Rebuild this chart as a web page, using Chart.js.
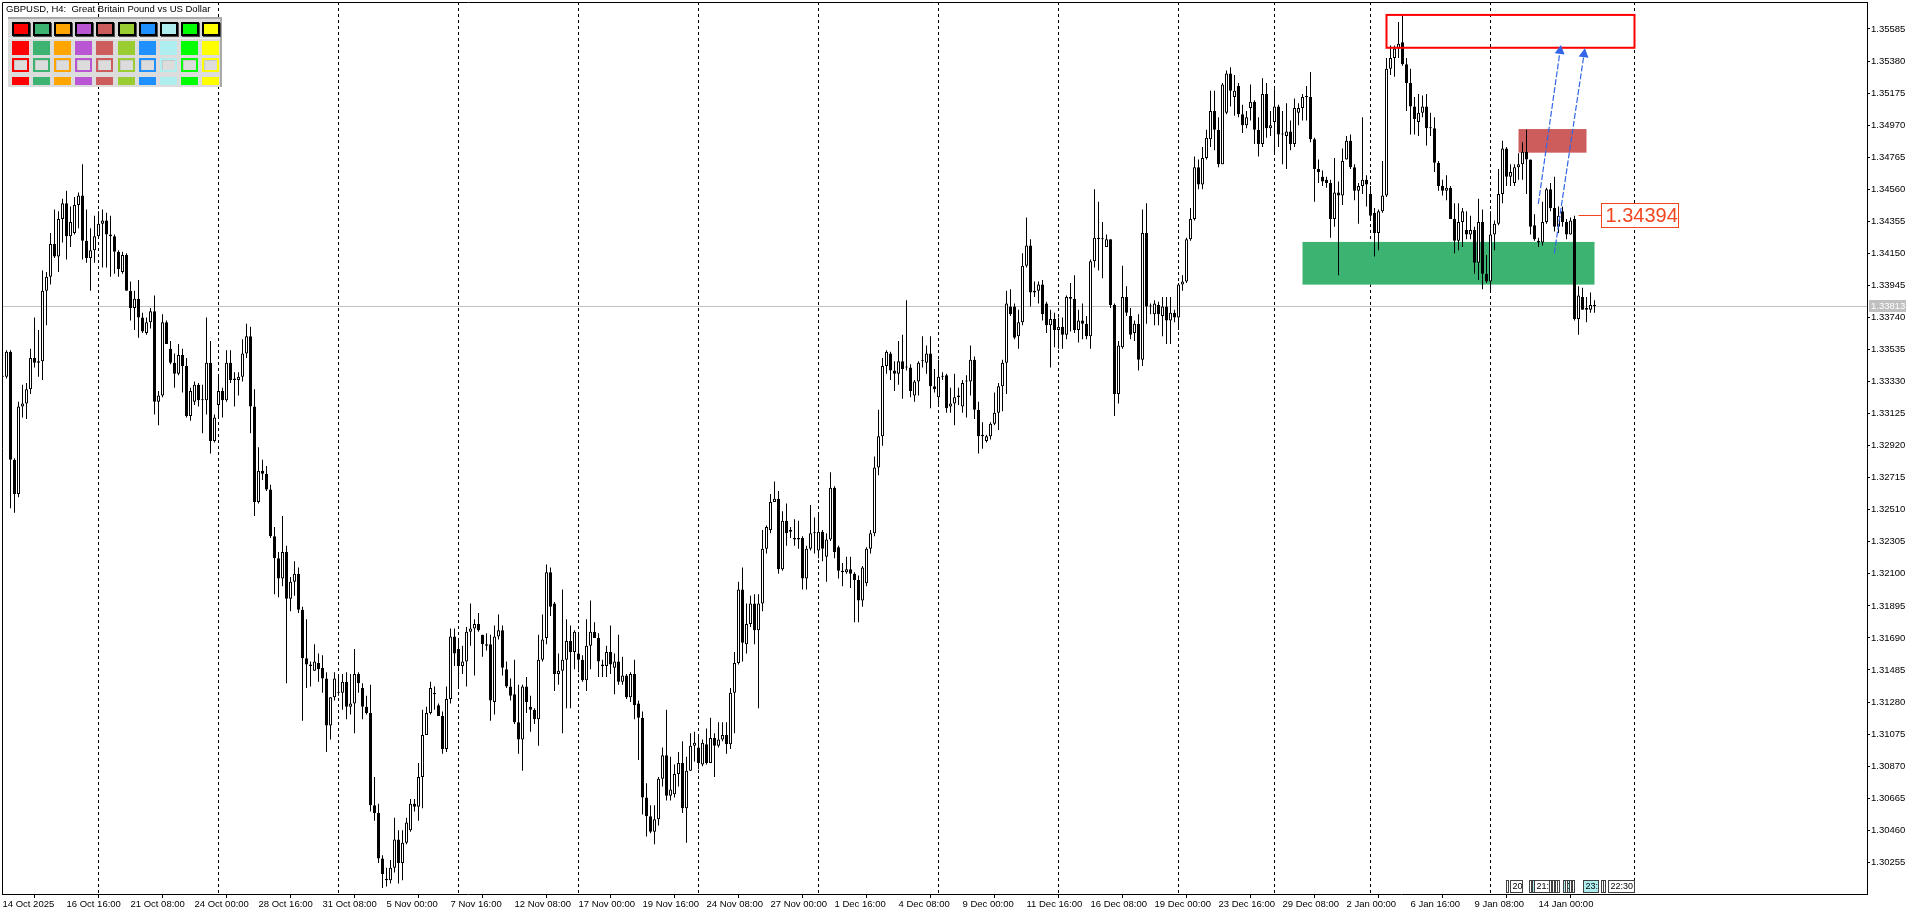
<!DOCTYPE html>
<html>
<head>
<meta charset="utf-8">
<title>GBPUSD, H4</title>
<script src="https://cdn.jsdelivr.net/npm/chart.js@4.4.1/dist/chart.umd.min.js"></script>
<style>
html, body { margin: 0; padding: 0; background: #ffffff; overflow: hidden; }
#wrap { position: relative; width: 1920px; height: 915px; }
</style>
</head>
<body>
<div id="wrap"><canvas id="chart"></canvas></div>
<script>
var symbolTitle = "GBPUSD, H4:  Great Britain Pound vs US Dollar"

// H4 bars, index 0 = 14 Oct 2025 00:00
var opens = [
1.3336,1.3336,1.3352,1.3283,1.3261,1.3317,1.3319,1.3328,1.3348,1.3345,
1.3346,1.3391,1.3400,1.3421,1.3413,1.3437,1.3447,1.3426,1.3428,1.3446,
1.3452,1.3423,1.3412,1.3417,1.3426,1.3434,1.3436,1.3427,1.3426,1.3416,
1.3403,1.3414,1.3391,1.3380,1.3386,1.3374,1.3364,1.3371,1.3378,1.3320,
1.3324,1.3371,1.3354,1.3345,1.3338,1.3350,1.3343,1.3311,1.3320,1.3331,
1.3321,1.3321,1.3345,1.3295,1.3318,1.3327,1.3321,1.3345,1.3335,1.3334,
1.3336,1.3351,1.3362,1.3317,1.3256,1.3276,1.3274,1.3264,1.3234,1.3220,
1.3207,1.3224,1.3194,1.3205,1.3210,1.3187,1.3156,1.3152,1.3148,1.3153,
1.3150,1.3143,1.3113,1.3131,1.3134,1.3134,1.3141,1.3125,1.3127,1.3146,
1.3137,1.3125,1.3121,1.3062,1.3057,1.3028,1.3015,1.3014,1.3022,1.3040,
1.3025,1.3038,1.3046,1.3063,1.3061,1.3080,1.3107,1.3121,1.3134,1.3126,
1.3119,1.3098,1.3130,1.3170,1.3162,1.3151,1.3154,1.3173,1.3175,1.3178,
1.3171,1.3165,1.3165,1.3128,1.3170,1.3174,1.3149,1.3138,1.3133,1.3115,
1.3104,1.3138,1.3125,1.3123,1.3117,1.3155,1.3169,1.3211,1.3191,1.3146,
1.3148,1.3155,1.3167,1.3160,1.3159,1.3155,1.3142,1.3164,1.3173,1.3169,
1.3152,1.3151,1.3160,1.3150,1.3154,1.3141,1.3145,1.3131,1.3146,1.3127,
1.3118,1.3067,1.3055,1.3045,1.3053,1.3079,1.3094,1.3068,1.3069,1.3082,
1.3089,1.3060,1.3084,1.3100,1.3099,1.3088,1.3101,1.3089,1.3105,1.3100,
1.3104,1.3107,1.3101,1.3134,1.3153,1.3200,1.3165,1.3178,1.3191,1.3174,
1.3191,1.3226,1.3238,1.3256,1.3258,1.3213,1.3244,1.3238,1.3233,1.3233,
1.3233,1.3207,1.3226,1.3236,1.3225,1.3237,1.3221,1.3232,1.3265,1.3227,
1.3212,1.3211,1.3213,1.3210,1.3206,1.3193,1.3204,1.3226,1.3236,1.3278,
1.3298,1.3343,1.3351,1.3340,1.3338,1.3346,1.3342,1.3342,1.3324,1.3333,
1.3346,1.3345,1.3351,1.3330,1.3323,1.3336,1.3337,1.3317,1.3319,1.3323,
1.3317,1.3333,1.3333,1.3347,1.3315,1.3298,1.3295,1.3298,1.3306,1.3313,
1.3330,1.3345,1.3381,1.3381,1.3362,1.3371,1.3407,1.3420,1.3390,1.3391,
1.3395,1.3383,1.3369,1.3373,1.3366,1.3368,1.3363,1.3387,1.3386,1.3366,
1.3372,1.3370,1.3362,1.3410,1.3425,1.3424,1.3419,1.3424,1.3382,1.3325,
1.3355,1.3387,1.3375,1.3364,1.3370,1.3347,1.3428,1.3381,1.3376,1.3382,
1.3375,1.3381,1.3372,1.3377,1.3374,1.3395,1.3397,1.3424,1.3437,1.3470,
1.3459,1.3476,1.3488,1.3506,1.3494,1.3472,1.3505,1.3530,1.3515,1.3522,
1.3504,1.3497,1.3508,1.3512,1.3494,1.3485,1.3517,1.3495,1.3499,1.3509,
1.3491,1.3490,1.3493,1.3485,1.3505,1.3508,1.3515,1.3515,1.3488,1.3469,
1.3464,1.3462,1.3460,1.3437,1.3454,1.3452,1.3475,1.3487,1.3470,1.3455,
1.3458,1.3462,1.3453,1.3441,1.3428,1.3442,1.3452,1.3533,1.3540,1.3546,
1.3550,1.3536,1.3524,1.3509,1.3499,1.3505,1.3509,1.3495,1.3495,1.3473,
1.3458,1.3455,1.3457,1.3437,1.3423,1.3435,1.3430,1.3427,1.3430,1.3409,
1.3435,1.3402,1.3397,1.3427,1.3434,1.3453,1.3482,1.3464,1.3460,1.3470,
1.3472,1.3480,1.3475,1.3433,1.3423,1.3422,1.3435,1.3456,1.3444,1.3432,
1.3442,1.3435,1.3427,1.3437,1.3373,1.3387,1.3380,1.3379,1.3382
]
var highs = [
1.3339,1.3353,1.3353,1.3284,1.3320,1.3331,1.3332,1.3354,1.3374,1.3366,
1.3404,1.3403,1.3428,1.3443,1.3442,1.3450,1.3455,1.3445,1.3451,1.3454,
1.3472,1.3443,1.3431,1.3439,1.3442,1.3443,1.3441,1.3439,1.3427,1.3417,
1.3416,1.3415,1.3397,1.3391,1.3398,1.3377,1.3374,1.3380,1.3388,1.3327,
1.3376,1.3372,1.3359,1.3351,1.3357,1.3354,1.3348,1.3329,1.3333,1.3332,
1.3331,1.3374,1.3359,1.3312,1.3337,1.3329,1.3353,1.3353,1.3339,1.3339,
1.3360,1.3370,1.3368,1.3328,1.3291,1.3283,1.3279,1.3267,1.3240,1.3224,
1.3247,1.3228,1.3208,1.3218,1.3214,1.3189,1.3181,1.3154,1.3165,1.3159,
1.3158,1.3147,1.3131,1.3147,1.3144,1.3146,1.3147,1.3146,1.3162,1.3147,
1.3140,1.3132,1.3139,1.3080,1.3063,1.3030,1.3022,1.3027,1.3054,1.3046,
1.3046,1.3054,1.3066,1.3066,1.3089,1.3123,1.3125,1.3141,1.3138,1.3127,
1.3122,1.3138,1.3175,1.3175,1.3167,1.3164,1.3176,1.3191,1.3181,1.3185,
1.3171,1.3172,1.3171,1.3177,1.3184,1.3177,1.3154,1.3143,1.3155,1.3139,
1.3139,1.3144,1.3132,1.3124,1.3171,1.3184,1.3216,1.3214,1.3192,1.3159,
1.3200,1.3181,1.3177,1.3174,1.3171,1.3158,1.3181,1.3193,1.3179,1.3172,
1.3155,1.3164,1.3177,1.3159,1.3171,1.3157,1.3146,1.3147,1.3155,1.3129,
1.3122,1.3076,1.3062,1.3062,1.3080,1.3099,1.3123,1.3093,1.3088,1.3096,
1.3103,1.3093,1.3108,1.3109,1.3107,1.3104,1.3111,1.3118,1.3108,1.3115,
1.3115,1.3115,1.3137,1.3160,1.3205,1.3214,1.3191,1.3196,1.3197,1.3197,
1.3238,1.3241,1.3261,1.3269,1.3263,1.3250,1.3255,1.3240,1.3245,1.3244,
1.3234,1.3228,1.3254,1.3246,1.3249,1.3238,1.3236,1.3275,1.3266,1.3228,
1.3217,1.3221,1.3221,1.3211,1.3209,1.3215,1.3227,1.3238,1.3285,1.3315,
1.3348,1.3353,1.3352,1.3346,1.3359,1.3363,1.3385,1.3344,1.3334,1.3346,
1.3362,1.3356,1.3362,1.3341,1.3347,1.3339,1.3338,1.3329,1.3338,1.3329,
1.3334,1.3337,1.3356,1.3349,1.3320,1.3307,1.3299,1.3307,1.3326,1.3332,
1.3347,1.3391,1.3392,1.3383,1.3379,1.3415,1.3438,1.3424,1.3397,1.3397,
1.3398,1.3384,1.3379,1.3377,1.3374,1.3374,1.3388,1.3396,1.3401,1.3379,
1.3383,1.3375,1.3411,1.3456,1.3448,1.3435,1.3427,1.3424,1.3383,1.3359,
1.3407,1.3394,1.3380,1.3372,1.3376,1.3443,1.3447,1.3383,1.3385,1.3384,
1.3387,1.3387,1.3387,1.3379,1.3396,1.3401,1.3425,1.3444,1.3477,1.3475,
1.3483,1.3494,1.3519,1.3519,1.3502,1.3524,1.3532,1.3534,1.3529,1.3524,
1.3510,1.3506,1.3523,1.3513,1.3502,1.3527,1.3524,1.3506,1.3520,1.3510,
1.3506,1.3511,1.3500,1.3514,1.3511,1.3517,1.3522,1.3531,1.3489,1.3475,
1.3468,1.3464,1.3462,1.3476,1.3461,1.3482,1.3490,1.3491,1.3472,1.3460,
1.3502,1.3465,1.3458,1.3444,1.3443,1.3474,1.3540,1.3548,1.3548,1.3563,
1.3568,1.3540,1.3533,1.3515,1.3517,1.3516,1.3517,1.3505,1.3502,1.3474,
1.3462,1.3465,1.3458,1.3447,1.3447,1.3444,1.3442,1.3439,1.3432,1.3450,
1.3443,1.3414,1.3442,1.3436,1.3469,1.3487,1.3483,1.3472,1.3472,1.3479,
1.3486,1.3494,1.3475,1.3440,1.3425,1.3448,1.3457,1.3460,1.3464,1.3445,
1.3445,1.3437,1.3438,1.3439,1.3394,1.3393,1.3387,1.3390,1.3385
]
var lows = [
1.3334,1.3335,1.3252,1.3249,1.3259,1.3310,1.3309,1.3325,1.3342,1.3336,
1.3334,1.3369,1.3395,1.3412,1.3403,1.3422,1.3411,1.3419,1.3427,1.3431,
1.3411,1.3409,1.3391,1.3409,1.3425,1.3406,1.3406,1.3400,1.3402,1.3400,
1.3402,1.3391,1.3372,1.3366,1.3361,1.3364,1.3363,1.3367,1.3312,1.3305,
1.3323,1.3357,1.3344,1.3329,1.3337,1.3326,1.3310,1.3308,1.3318,1.3317,
1.3300,1.3312,1.3287,1.3294,1.3310,1.3310,1.3320,1.3332,1.3317,1.3324,
1.3333,1.3348,1.3300,1.3247,1.3255,1.3270,1.3263,1.3233,1.3197,1.3195,
1.3202,1.3140,1.3186,1.3196,1.3185,1.3116,1.3137,1.3138,1.3148,1.3141,
1.3134,1.3096,1.3104,1.3129,1.3132,1.3123,1.3117,1.3120,1.3108,1.3134,
1.3117,1.3120,1.3058,1.3052,1.3025,1.3009,1.3010,1.3012,1.3019,1.3012,
1.3014,1.3037,1.3045,1.3058,1.3052,1.3060,1.3107,1.3120,1.3123,1.3119,
1.3095,1.3096,1.3127,1.3151,1.3137,1.3146,1.3138,1.3164,1.3145,1.3173,
1.3157,1.3161,1.3116,1.3120,1.3168,1.3145,1.3137,1.3129,1.3114,1.3095,
1.3084,1.3121,1.3109,1.3114,1.3100,1.3154,1.3165,1.3183,1.3135,1.3139,
1.3108,1.3124,1.3124,1.3149,1.3147,1.3141,1.3135,1.3149,1.3169,1.3144,
1.3144,1.3144,1.3146,1.3133,1.3139,1.3139,1.3130,1.3128,1.3117,1.3091,
1.3056,1.3042,1.3044,1.3037,1.3049,1.3074,1.3065,1.3065,1.3067,1.3074,
1.3057,1.3038,1.3084,1.3090,1.3085,1.3087,1.3088,1.3089,1.3080,1.3099,
1.3103,1.3095,1.3098,1.3108,1.3152,1.3154,1.3159,1.3176,1.3165,1.3124,
1.3186,1.3223,1.3236,1.3256,1.3210,1.3212,1.3228,1.3233,1.3228,1.3226,
1.3200,1.3200,1.3225,1.3223,1.3220,1.3218,1.3205,1.3231,1.3220,1.3207,
1.3202,1.3210,1.3201,1.3179,1.3179,1.3189,1.3202,1.3223,1.3234,1.3273,
1.3292,1.3338,1.3334,1.3327,1.3331,1.3322,1.3340,1.3323,1.3320,1.3324,
1.3342,1.3338,1.3316,1.3326,1.3317,1.3334,1.3313,1.3313,1.3305,1.3318,
1.3313,1.3310,1.3324,1.3309,1.3287,1.3290,1.3294,1.3296,1.3305,1.3302,
1.3314,1.3325,1.3375,1.3360,1.3354,1.3369,1.3406,1.3381,1.3387,1.3383,
1.3372,1.3364,1.3342,1.3355,1.3354,1.3354,1.3360,1.3365,1.3364,1.3358,
1.3360,1.3360,1.3354,1.3406,1.3404,1.3399,1.3419,1.3380,1.3311,1.3319,
1.3354,1.3375,1.3360,1.3359,1.3340,1.3343,1.3370,1.3376,1.3369,1.3369,
1.3362,1.3357,1.3357,1.3371,1.3366,1.3391,1.3396,1.3423,1.3436,1.3456,
1.3456,1.3475,1.3483,1.3481,1.3470,1.3472,1.3504,1.3509,1.3503,1.3502,
1.3492,1.3495,1.3500,1.3485,1.3477,1.3483,1.3489,1.3490,1.3479,1.3483,
1.3472,1.3469,1.3481,1.3483,1.3497,1.3500,1.3500,1.3486,1.3448,1.3460,
1.3458,1.3457,1.3425,1.3432,1.3401,1.3446,1.3475,1.3469,1.3449,1.3434,
1.3453,1.3445,1.3437,1.3413,1.3417,1.3441,1.3451,1.3529,1.3528,1.3540,
1.3535,1.3506,1.3491,1.3491,1.3490,1.3502,1.3484,1.3490,1.3467,1.3455,
1.3452,1.3449,1.3437,1.3415,1.3417,1.3419,1.3424,1.3424,1.3402,1.3398,
1.3392,1.3396,1.3390,1.3417,1.3433,1.3447,1.3458,1.3458,1.3458,1.3462,
1.3462,1.3453,1.3427,1.3423,1.3419,1.3420,1.3434,1.3442,1.3429,1.3428,
1.3432,1.3424,1.3427,1.3372,1.3363,1.3379,1.3371,1.3377,1.3377
]
var closes = [
1.3336,1.3352,1.3283,1.3261,1.3317,1.3319,1.3328,1.3348,1.3345,1.3346,
1.3391,1.3400,1.3421,1.3413,1.3437,1.3447,1.3426,1.3435,1.3446,1.3452,
1.3423,1.3412,1.3417,1.3426,1.3434,1.3436,1.3427,1.3426,1.3416,1.3405,
1.3414,1.3391,1.3380,1.3386,1.3374,1.3365,1.3371,1.3378,1.3320,1.3324,
1.3371,1.3357,1.3345,1.3338,1.3350,1.3343,1.3311,1.3327,1.3331,1.3321,
1.3321,1.3345,1.3295,1.3310,1.3327,1.3321,1.3345,1.3334,1.3334,1.3336,
1.3351,1.3362,1.3317,1.3256,1.3276,1.3274,1.3264,1.3234,1.3220,1.3207,
1.3224,1.3194,1.3205,1.3210,1.3187,1.3156,1.3152,1.3151,1.3154,1.3149,
1.3143,1.3113,1.3131,1.3143,1.3134,1.3141,1.3125,1.3127,1.3146,1.3140,
1.3125,1.3121,1.3062,1.3057,1.3028,1.3018,1.3014,1.3022,1.3040,1.3025,
1.3038,1.3051,1.3063,1.3061,1.3080,1.3107,1.3121,1.3137,1.3133,1.3119,
1.3098,1.3130,1.3170,1.3159,1.3151,1.3154,1.3173,1.3175,1.3178,1.3174,
1.3165,1.3164,1.3129,1.3170,1.3174,1.3150,1.3138,1.3132,1.3115,1.3104,
1.3138,1.3128,1.3123,1.3117,1.3155,1.3168,1.3211,1.3189,1.3146,1.3148,
1.3155,1.3167,1.3160,1.3173,1.3155,1.3142,1.3164,1.3173,1.3169,1.3154,
1.3151,1.3160,1.3152,1.3154,1.3141,1.3145,1.3131,1.3146,1.3126,1.3118,
1.3067,1.3055,1.3045,1.3053,1.3079,1.3094,1.3068,1.3072,1.3082,1.3089,
1.3060,1.3084,1.3100,1.3102,1.3089,1.3102,1.3089,1.3105,1.3100,1.3104,
1.3107,1.3101,1.3134,1.3153,1.3200,1.3166,1.3178,1.3191,1.3174,1.3191,
1.3226,1.3240,1.3256,1.3258,1.3213,1.3244,1.3236,1.3237,1.3232,1.3232,
1.3207,1.3226,1.3236,1.3236,1.3237,1.3226,1.3232,1.3265,1.3224,1.3212,
1.3211,1.3213,1.3210,1.3206,1.3193,1.3214,1.3226,1.3236,1.3278,1.3298,
1.3343,1.3352,1.3340,1.3338,1.3346,1.3341,1.3342,1.3327,1.3333,1.3345,
1.3346,1.3351,1.3330,1.3328,1.3336,1.3336,1.3316,1.3319,1.3323,1.3324,
1.3332,1.3333,1.3347,1.3315,1.3298,1.3299,1.3298,1.3306,1.3313,1.3330,
1.3345,1.3383,1.3376,1.3361,1.3371,1.3407,1.3420,1.3390,1.3391,1.3395,
1.3376,1.3369,1.3373,1.3366,1.3368,1.3363,1.3387,1.3386,1.3366,1.3372,
1.3370,1.3362,1.3410,1.3425,1.3424,1.3424,1.3424,1.3382,1.3325,1.3356,
1.3387,1.3377,1.3363,1.3370,1.3347,1.3428,1.3381,1.3381,1.3383,1.3376,
1.3381,1.3372,1.3377,1.3374,1.3395,1.3397,1.3424,1.3437,1.3470,1.3459,
1.3476,1.3489,1.3506,1.3494,1.3472,1.3523,1.3530,1.3519,1.3519,1.3504,
1.3497,1.3502,1.3512,1.3494,1.3485,1.3517,1.3495,1.3497,1.3509,1.3491,
1.3491,1.3493,1.3485,1.3508,1.3508,1.3515,1.3515,1.3488,1.3469,1.3467,
1.3461,1.3460,1.3437,1.3454,1.3452,1.3474,1.3487,1.3470,1.3455,1.3458,
1.3462,1.3459,1.3439,1.3428,1.3442,1.3452,1.3533,1.3540,1.3546,1.3549,
1.3536,1.3524,1.3509,1.3501,1.3505,1.3509,1.3495,1.3495,1.3473,1.3458,
1.3455,1.3457,1.3437,1.3423,1.3435,1.3442,1.3427,1.3430,1.3409,1.3435,
1.3402,1.3397,1.3427,1.3434,1.3453,1.3482,1.3464,1.3467,1.3470,1.3472,
1.3480,1.3475,1.3432,1.3424,1.3422,1.3435,1.3456,1.3444,1.3432,1.3439,
1.3435,1.3427,1.3436,1.3373,1.3388,1.3379,1.3379,1.3382,1.33813
]

var xTickBars = [0,16,32,48,64,80,96,112,128,144,160,176,192,208,224,240,256,272,288,304,320,336,352,368,384]
var xTickLabels = ["14 Oct 2025","16 Oct 16:00","21 Oct 08:00","24 Oct 00:00","28 Oct 16:00","31 Oct 08:00",
    "5 Nov 00:00","7 Nov 16:00","12 Nov 08:00","17 Nov 00:00","19 Nov 16:00","24 Nov 08:00","27 Nov 00:00",
    "1 Dec 16:00","4 Dec 08:00","9 Dec 00:00","11 Dec 16:00","16 Dec 08:00","19 Dec 00:00","23 Dec 16:00",
    "29 Dec 08:00","2 Jan 00:00","6 Jan 16:00","9 Jan 08:00","14 Jan 00:00"]
var yTicks = [1.30255,1.30460,1.30665,1.30870,1.31075,1.31280,1.31485,1.31690,1.31895,1.32100,1.32305,
    1.32510,1.32715,1.32920,1.33125,1.33330,1.33535,1.33740,1.33945,1.34150,1.34355,1.34560,1.34765,
    1.34970,1.35175,1.35380,1.35585]
var separatorBars = [24,54,84,114,144,174,204,234,264,294,318,342,372,408]
var bidPrice = 1.33813

// objects: [fromBar, toBar, topPrice, bottomPrice]
var greenZone = [325, 398, 1.34223, 1.33950]
var redZone = [379, 396, 1.34945, 1.34794]
var targetBox = [346, 408, 1.35675, 1.35465]
// arrows: [fromBar, fromPrice, toBar, toPrice]
var arrowA = [383.95, 1.34466, 389.6, 1.35483]
var arrowB = [387.95, 1.34150, 395.6, 1.35462]
var priceLabelBar = 394
var priceLabelValue = 1.34394

var paletteColors = ["#FF0000","#3CB371","#FFA500","#BA55D3","#CD5C5C","#9ACD32","#1E90FF","#AFEEEE","#00FF00","#FFFF00"]

// calendar events at the bottom: bar, width in px, text, highlighted
var eventBars = [375.9, 376.9, 381.6, 382.3, 382.9, 386.7, 387.3, 388.0, 388.7, 390.0, 390.7, 391.5, 392.4, 395.0, 399.5, 400.0, 401.4]
var eventWidths = [2, 12, 2, 2, 15, 2, 2, 2, 2, 7, 2, 2, 2, 15, 2, 2, 26]
var eventTexts = ["", "20", "", "", "21:", "", "", "", "", "0", "", "", "", "23:", "", "", "22:30"]
var eventLit = [0, 0, 0, 1, 0, 0, 0, 0, 0, 1, 0, 0, 0, 1, 0, 0, 0]

var axisFont = { family: "Liberation Sans", size: 9.5 }

var bodyData = []
var wickData = []
var bodyColors = []
for (var i = 0; i < closes.length; i++) {
    bodyData.push({ x: i, y: [opens[i], closes[i]] })
    wickData.push({ x: i, y: [lows[i], highs[i]] })
    bodyColors.push(closes[i] > opens[i] ? "#FFFFFF" : "#000000")
}

function px(chart, bar) { return chart.scales.x.getPixelForValue(bar) }
function py(chart, price) { return chart.scales.y.getPixelForValue(price) }

function drawArrow(ctx, chart, a) {
    var x1 = px(chart, a[0]), y1 = py(chart, a[1])
    var x2 = px(chart, a[2]), y2 = py(chart, a[3])
    var ang = Math.atan2(y2 - y1, x2 - x1)
    var head = 9
    var bx = x2 - head * Math.cos(ang), by = y2 - head * Math.sin(ang)
    ctx.save()
    ctx.strokeStyle = "#3366E6"
    ctx.lineWidth = 1.2
    ctx.setLineDash([6, 2])
    ctx.beginPath()
    ctx.moveTo(x1, y1)
    ctx.lineTo(bx, by)
    ctx.stroke()
    ctx.setLineDash([])
    ctx.fillStyle = "#3366E6"
    ctx.beginPath()
    ctx.moveTo(x2, y2)
    ctx.lineTo(bx + 5 * Math.sin(ang), by - 5 * Math.cos(ang))
    ctx.lineTo(bx - 5 * Math.sin(ang), by + 5 * Math.cos(ang))
    ctx.closePath()
    ctx.fill()
    ctx.restore()
}

var mtOverlay = {
    id: "mtOverlay",
    beforeDatasetsDraw: function (chart) {
        var ctx = chart.ctx
        var area = chart.chartArea
        ctx.save()
        ctx.beginPath()
        ctx.rect(area.left, area.top, area.right - area.left, area.bottom - area.top)
        ctx.clip()

        // period separators
        ctx.strokeStyle = "#000000"
        ctx.lineWidth = 1
        ctx.setLineDash([3, 3])
        separatorBars.forEach(function (b) {
            var x = Math.floor(px(chart, b)) + 0.5
            ctx.beginPath()
            ctx.moveTo(x, area.top)
            ctx.lineTo(x, area.bottom)
            ctx.stroke()
        })
        ctx.setLineDash([])

        // bid line
        var yb = Math.floor(py(chart, bidPrice)) + 0.5
        ctx.strokeStyle = "#C0C0C0"
        ctx.beginPath()
        ctx.moveTo(area.left, yb)
        ctx.lineTo(area.right, yb)
        ctx.stroke()

        // zones
        function fillZone(z, color) {
            var x1 = px(chart, z[0]), x2 = px(chart, z[1])
            var y1 = py(chart, z[2]), y2 = py(chart, z[3])
            ctx.fillStyle = color
            ctx.fillRect(x1, y1, x2 - x1, y2 - y1)
        }
        fillZone(greenZone, "#3CB371")
        fillZone(redZone, "#CD5C5C")
        ctx.restore()
    },
    afterDatasetsDraw: function (chart) {
        var ctx = chart.ctx
        // target rectangle
        var x1 = px(chart, targetBox[0]), x2 = px(chart, targetBox[1])
        var y1 = py(chart, targetBox[2]), y2 = py(chart, targetBox[3])
        ctx.save()
        ctx.strokeStyle = "#FF0000"
        ctx.lineWidth = 2
        ctx.strokeRect(x1, y1, x2 - x1, y2 - y1)
        ctx.restore()

        drawArrow(ctx, chart, arrowA)
        drawArrow(ctx, chart, arrowB)

        // price label
        var lx = px(chart, priceLabelBar)
        var ly = Math.floor(py(chart, priceLabelValue)) + 0.5
        ctx.save()
        ctx.strokeStyle = "#F2461E"
        ctx.lineWidth = 1
        ctx.beginPath()
        ctx.moveTo(lx, ly)
        ctx.lineTo(lx + 23, ly)
        ctx.stroke()
        ctx.fillStyle = "#FFFFFF"
        ctx.fillRect(lx + 23, ly - 12, 77, 24)
        ctx.strokeRect(lx + 23, ly - 12, 77, 24)
        ctx.fillStyle = "#F2461E"
        ctx.font = "20px 'Liberation Sans'"
        ctx.textBaseline = "middle"
        ctx.textAlign = "left"
        ctx.fillText(priceLabelValue.toFixed(5), lx + 27, ly + 1)
        ctx.restore()
    },
    afterDraw: function (chart) {
        var ctx = chart.ctx
        var area = chart.chartArea
        ctx.save()
        // frame (left and top)
        ctx.strokeStyle = "#000000"
        ctx.lineWidth = 1
        ctx.beginPath()
        ctx.moveTo(area.left + 0.5, area.bottom)
        ctx.lineTo(area.left + 0.5, area.top + 0.5)
        ctx.lineTo(area.right, area.top + 0.5)
        ctx.stroke()

        // title
        ctx.fillStyle = "#000000"
        ctx.font = "9.5px 'Liberation Sans'"
        ctx.textBaseline = "middle"
        ctx.textAlign = "left"
        ctx.fillText(symbolTitle, 6, 9.5)

        // colour palette panel
        ctx.fillStyle = "#DCDCDC"
        ctx.fillRect(8, 18, 214, 69)
        ctx.fillStyle = "#A9A9A9"
        ctx.fillRect(8, 17, 214, 2)
        ctx.fillRect(220, 17, 2, 70)
        ctx.fillStyle = "#F0F0F0"
        ctx.fillRect(8, 38, 212, 1)
        for (var k = 0; k < paletteColors.length; k++) {
            var cx = 12 + k * 21.1
            var c = paletteColors[k]
            var sx = Math.round(cx)
            // row 1: swatch with black frame and shadow
            ctx.fillStyle = "#505050"
            ctx.fillRect(sx + 1, 23, 18, 14)
            ctx.fillStyle = "#000000"
            ctx.fillRect(sx, 22, 18, 14)
            ctx.fillStyle = c
            ctx.fillRect(sx + 2, 24, 14, 10)
            // row 2: filled
            ctx.fillStyle = c
            ctx.fillRect(sx, 41, 17, 14)
            // row 3: outline
            ctx.fillStyle = c
            ctx.fillRect(sx, 58, 17, 14)
            ctx.fillStyle = "#C8C8C8"
            ctx.fillRect(sx + 2, 60, 13, 10)
            ctx.fillStyle = "#DCDCDC"
            ctx.fillRect(sx + 3, 61, 12, 9)
            // row 4: thin filled bar
            ctx.fillStyle = c
            ctx.fillRect(sx, 77, 17, 8)
        }

        // bid label on the price scale
        var yb = Math.round(py(chart, bidPrice))
        ctx.fillStyle = "#C0C0C0"
        ctx.fillRect(area.right + 2, yb - 6, 37, 12)
        ctx.fillStyle = "#FFFFFF"
        ctx.font = "9.5px 'Liberation Sans'"
        ctx.fillText(bidPrice.toFixed(5), area.right + 4, yb + 0.5)

        // calendar events strip
        ctx.font = "9px 'Liberation Sans'"
        for (var e = 0; e < eventBars.length; e++) {
            var ex = Math.round(px(chart, eventBars[e])) + 0.5
            var w = eventWidths[e]
            ctx.fillStyle = eventLit[e] ? "#AFEEEE" : "#FFFFFF"
            ctx.fillRect(ex, 880.5, w, 12)
            ctx.strokeStyle = "#404040"
            ctx.strokeRect(ex, 880.5, w, 12)
            if (eventTexts[e]) {
                ctx.fillStyle = "#000000"
                ctx.fillText(eventTexts[e], ex + 2, 887)
            }
        }
        ctx.restore()
    }
}

var ctx = document.getElementById("chart").getContext("2d")
var myChart = new Chart(ctx, {
    type: "bar",
    data: {
        datasets: [{
            label: "body",
            data: bodyData,
            backgroundColor: bodyColors,
            borderColor: "#000000",
            borderWidth: 1,
            borderSkipped: false,
            barThickness: 3,
            minBarLength: 1,
            inflateAmount: 0,
            grouped: false
        }, {
            label: "wick",
            data: wickData,
            backgroundColor: "#000000",
            borderWidth: 0,
            barThickness: 1,
            inflateAmount: 0,
            grouped: false
        }]
    },
    options: {
        responsive: true,
        maintainAspectRatio: false,
        animation: false,
        events: [],
        layout: { padding: { left: 2, top: 2, right: 0, bottom: 0 } },
        plugins: { legend: { display: false }, tooltip: { enabled: false } },
        scales: {
            x: {
                type: "linear",
                min: -0.125,
                max: 466.125,
                offset: false,
                grid: { display: true, drawOnChartArea: false, drawTicks: true, tickLength: 4, tickColor: "#000000", color: "#000000" },
                border: { display: true, color: "#000000", width: 1 },
                ticks: {
                    autoSkip: false, maxRotation: 0, align: "start", padding: 1,
                    color: "#000000", font: axisFont,
                    callback: function (v, idx) { return xTickLabels[idx] }
                },
                afterBuildTicks: function (scale) {
                    scale.ticks = xTickBars.map(function (b) { return { value: b } })
                },
                afterFit: function (scale) {
                    scale.height = 21
                    scale.paddingLeft = 0; scale.paddingRight = 0; scale.paddingTop = 0; scale.paddingBottom = 0
                }
            },
            y: {
                type: "linear",
                position: "right",
                min: 1.300522,
                max: 1.357577,
                grid: { display: true, drawOnChartArea: false, drawTicks: true, tickLength: 3, tickColor: "#000000", color: "#000000" },
                border: { display: true, color: "#000000", width: 1 },
                ticks: {
                    autoSkip: false, padding: 1, color: "#000000", font: axisFont,
                    callback: function (v) { return v.toFixed(5) }
                },
                afterBuildTicks: function (scale) {
                    scale.ticks = yTicks.map(function (p) { return { value: p } })
                },
                afterFit: function (scale) {
                    scale.width = 53
                    scale.paddingLeft = 0; scale.paddingRight = 0; scale.paddingTop = 0; scale.paddingBottom = 0
                }
            }
        }
    },
    plugins: [mtOverlay]
})
</script>
</body>
</html>
